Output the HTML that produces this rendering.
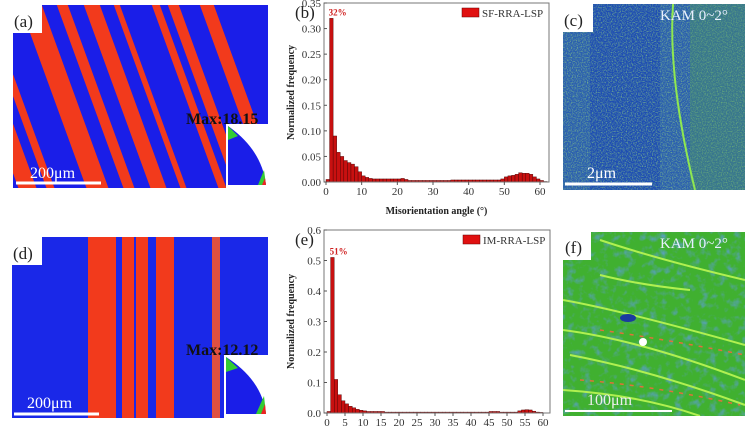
<!DOCTYPE html>
<html><head><meta charset="utf-8"><style>
body{margin:0;background:#fff;width:754px;height:426px;overflow:hidden}
svg{display:block;font-family:"Liberation Serif",serif}
</style></head><body>
<svg id="fig" width="754" height="426">
<defs>
<filter id="noise" x="0" y="0" width="100%" height="100%"><feTurbulence type="fractalNoise" baseFrequency="0.8" numOctaves="2" seed="3"/><feColorMatrix values="0 0 0 0 0.35  0 0 0 0 0.75  0 0 0 0 0.2  0 0 0 1.6 -0.7"/><feComposite in2="SourceGraphic" operator="in"/></filter>
<filter id="noise2" x="0" y="0" width="100%" height="100%"><feTurbulence type="fractalNoise" baseFrequency="0.12" numOctaves="3" seed="7"/><feColorMatrix values="0 0 0 0 0.1  0 0 0 0 0.35  0 0 0 0 0.55  0 0 0 2.2 -1.1"/><feComposite in2="SourceGraphic" operator="in"/></filter>
<clipPath id="ca"><path d="M13,33 H42 V5 H268 V188 H13Z"/></clipPath>
<clipPath id="cd"><rect x="12" y="237" width="256" height="181"/></clipPath>
<clipPath id="cc"><rect x="563" y="4" width="182" height="186"/></clipPath>
<clipPath id="cf"><rect x="563" y="232" width="182" height="184"/></clipPath>
</defs>

<!-- (a) -->
<g clip-path="url(#ca)">
<rect x="0" y="0" width="270" height="190" fill="#1a1ee8"/>
<g fill="#f23a1c" transform="skewX(20)">
<rect x="-50" y="0" width="18" height="190"/><rect x="-22" y="0" width="8" height="190"/>
<rect x="18" y="0" width="22" height="190"/><rect x="55" y="0" width="11" height="190"/>
<rect x="82" y="0" width="16" height="190"/><rect x="112" y="0" width="6" height="190"/>
<rect x="150" y="0" width="8" height="190"/><rect x="166" y="0" width="11" height="190"/>
<rect x="198" y="0" width="14" height="190"/>
</g>
</g>
<rect x="13" y="5" width="29" height="28" fill="#fff"/>
<text x="14" y="27" font-size="17" fill="#222">(a)</text>
<text x="186" y="124" font-size="16" font-weight="bold" fill="#111">Max:18.15</text>
<g><rect x="226" y="124" width="42" height="64" fill="#fff"/><path d="M228,126 L228,185 L266,185 Q262,150 228,126Z" fill="#1a1ee8"/><path d="M228,126 L228,140 L238,136Z" fill="#3c3"/><path d="M266,185 L258,185 L264,170Z" fill="#3c3"/><path d="M266,185 L262,185 L265,178Z" fill="#e22"/></g>
<line x1="16" y1="183" x2="101" y2="183" stroke="#fff" stroke-width="3"/>
<text x="30" y="178" font-size="16" fill="#fff">200μm</text>

<!-- (d) -->
<g clip-path="url(#cd)">
<rect x="12" y="237" width="256" height="181" fill="#1a28e8"/>
<g fill="#f23a1c">
<rect x="88" y="237" width="28" height="181"/><rect x="122" y="237" width="12" height="181"/>
<rect x="136" y="237" width="12" height="181"/><rect x="156" y="237" width="18" height="181"/>
<rect x="212" y="237" width="8" height="181" fill="#e05040"/>
</g>
</g>
<rect x="12" y="237" width="30" height="28" fill="#fff"/>
<text x="13" y="259" font-size="17" fill="#222">(d)</text>
<text x="186" y="355" font-size="16" font-weight="bold" fill="#111">Max:12.12</text>
<g><rect x="224" y="355" width="44" height="63" fill="#fff"/><path d="M226,357 L226,414 L266,414 Q262,380 226,357Z" fill="#1a1ee8"/><path d="M226,357 L226,372 L238,368Z" fill="#3c3"/><path d="M266,414 L256,414 L264,396Z" fill="#3c3"/><path d="M266,414 L261,414 L265,404Z" fill="#e22"/></g>
<line x1="14" y1="414" x2="99" y2="414" stroke="#fff" stroke-width="3"/>
<text x="27" y="408" font-size="16" fill="#fff">200μm</text>

<!-- (c) -->
<g clip-path="url(#cc)">
<rect x="563" y="4" width="182" height="186" fill="#2a5eb0"/>
<rect x="590" y="4" width="70" height="186" fill="#1c48b4" opacity="0.8"/>
<rect x="563" y="4" width="182" height="186" filter="url(#noise)" fill="#fff"/>
<rect x="690" y="4" width="55" height="186" fill="#4fa050" opacity="0.35"/>
<path d="M673,4 Q668,80 695,190" stroke="#8fe850" stroke-width="2" fill="none"/>
</g>
<rect x="563" y="4" width="30" height="28" fill="#fff"/>
<text x="564" y="26" font-size="17" fill="#222">(c)</text>
<text x="660" y="20" font-size="15" fill="#e8f0ff">KAM 0~2°</text>
<line x1="565" y1="184" x2="652" y2="184" stroke="#fff" stroke-width="3"/>
<text x="587" y="178" font-size="16" fill="#fff">2μm</text>

<!-- (f) -->
<g clip-path="url(#cf)">
<rect x="563" y="232" width="182" height="184" fill="#40b030"/>
<rect x="563" y="232" width="182" height="184" filter="url(#noise2)" fill="#fff"/>
<g stroke="#b0f050" stroke-width="2" fill="none">
<path d="M563,300 Q620,310 745,345"/><path d="M563,330 Q640,340 745,380"/><path d="M570,355 Q650,370 745,405"/><path d="M563,390 Q640,395 700,416"/><path d="M600,240 Q660,260 745,280"/><path d="M600,275 Q640,285 690,290"/>
</g>
<g stroke="#e0703a" stroke-width="1.5" fill="none" stroke-dasharray="4 6"><path d="M580,380 Q650,385 740,405"/><path d="M600,330 Q670,340 745,355"/></g>
<ellipse cx="628" cy="318" rx="8" ry="4" fill="#1a3aa0"/>
<circle cx="643" cy="342" r="4" fill="#fff"/>
</g>
<rect x="563" y="232" width="28" height="28" fill="#fff"/>
<text x="565" y="253" font-size="17" fill="#222">(f)</text>
<text x="660" y="248" font-size="15" fill="#e8f0ff">KAM 0~2°</text>
<line x1="565" y1="411" x2="672" y2="411" stroke="#fff" stroke-width="2"/>
<text x="587" y="405" font-size="16" fill="#eee">100μm</text>

<g id="chartB"></g>
<g id="chartE"></g>
</svg>
<script>
const binsB = [0.005,0.32,0.09,0.058,0.05,0.042,0.038,0.035,0.03,0.02,0.012,0.009,0.007,0.006,0.006,0.006,0.006,0.006,0.006,0.006,0.006,0.007,0.005,0.003,0.003,0.003,0.003,0.003,0.003,0.003,0.003,0.003,0.003,0.003,0.003,0.004,0.004,0.004,0.004,0.004,0.004,0.004,0.004,0.004,0.004,0.004,0.004,0.004,0.004,0.006,0.01,0.012,0.013,0.015,0.018,0.017,0.017,0.015,0.01,0.006,0.003,0.001];
const binsE = [0.005,0.51,0.11,0.06,0.04,0.03,0.022,0.017,0.012,0.009,0.007,0.005,0.005,0.005,0.005,0.005,0.003,0.003,0.003,0.003,0.003,0.003,0.003,0.003,0.003,0.003,0.003,0.003,0.003,0.003,0.003,0.003,0.003,0.003,0.003,0.003,0.003,0.003,0.003,0.003,0.003,0.003,0.003,0.003,0.003,0.005,0.005,0.005,0.003,0.003,0.003,0.003,0.003,0.007,0.01,0.011,0.01,0.006,0.003,0.002];
const yTicksB = ["0.00","0.05","0.10","0.15","0.20","0.25","0.30","0.35"];
const yTicksE = ["0.0","0.1","0.2","0.3","0.4","0.5","0.6"];
const xTicksB = [0,10,20,30,40,50,60];
const xTicksE = [0,5,10,15,20,25,30,35,40,45,50,55,60];
const NS='http://www.w3.org/2000/svg';
function mk(parent,tag,attrs,txt){const e=document.createElementNS(NS,tag);for(const k in attrs)e.setAttribute(k,attrs[k]);if(txt!=null)e.textContent=txt;parent.appendChild(e);return e;}
function draw(g,o){
  const sx=v=>o.x0+(v/60)*(o.x60-o.x0);
  const sy=v=>o.yb-(v/o.ymax)*(o.yb-o.yt);
  o.bins.forEach((v,i)=>{
    const r=mk(g,'rect',{x:sx(i),y:sy(v),width:sx(1)-sx(0),height:o.yb-sy(v),fill:'#c81010',stroke:'#400','stroke-width':0.4});
    
    
  });
  mk(g,'rect',{x:o.fl,y:o.yt,width:o.fr-o.fl,height:o.yb-o.yt,fill:'none',stroke:'#777','stroke-width':1});
  o.yTicks.forEach(t=>{const y=sy(parseFloat(t));
    mk(g,'line',{x1:o.fl,x2:o.fl+3,y1:y,y2:y,stroke:'#555'});
    const tx=mk(g,'text',{x:o.fl-3,y:y+4,'font-size':11,'text-anchor':'end',fill:'#333'},t);
    
    });
  o.xTicks.forEach(t=>{const x=sx(t);
    mk(g,'line',{x1:x,x2:x,y1:o.yb,y2:o.yb+3,stroke:'#555'});
    const tx=mk(g,'text',{x:x,y:o.yb+13,'font-size':11,'text-anchor':'middle',fill:'#333'},String(t));
    
    });
  const yt=mk(g,'text',{x:0,y:0,'font-size':10,'font-weight':'bold','text-anchor':'middle',fill:'#222',transform:`translate(${o.fl-30},${(o.yt+o.yb)/2}) rotate(-90)`},'Normalized frequency');
  
  
  const pk=mk(g,'text',{x:sx(1)-1,y:sy(o.bins[1])-3,'font-size':9,'font-weight':'bold',fill:'#d02020'},o.peak);
  
  
  mk(g,'rect',{x:o.fr-87,y:o.yt+5,width:17,height:9,fill:'#e01010',stroke:'#600','stroke-width':0.5});
  const lg=mk(g,'text',{x:o.fr-67,y:o.yt+14,'font-size':11,fill:'#333'},o.legend);
  
  
  const pl=mk(g,'text',{x:o.fl-29,y:o.yt+15,'font-size':17,fill:'#222'},o.panel);
  
  
  if(o.xtitle){const xt=mk(g,'text',{x:(o.fl+o.fr)/2,y:o.yb+32,'font-size':10,'font-weight':'bold','text-anchor':'middle',fill:'#222'},o.xtitle);
    
    }
}
draw(document.getElementById('chartB'),{bins:binsB,yTicks:yTicksB,xTicks:xTicksB,x0:326,x60:540,fl:324,fr:549,yt:3,yb:182,ymax:0.35,peak:'32%',legend:'SF-RRA-LSP',panel:'(b)',xtitle:'Misorientation angle (°)'});
draw(document.getElementById('chartE'),{bins:binsE,yTicks:yTicksE,xTicks:xTicksE,x0:327,x60:543,fl:324,fr:550,yt:230,yb:413,ymax:0.6,peak:'51%',legend:'IM-RRA-LSP',panel:'(e)'});
</script>
</body></html>
